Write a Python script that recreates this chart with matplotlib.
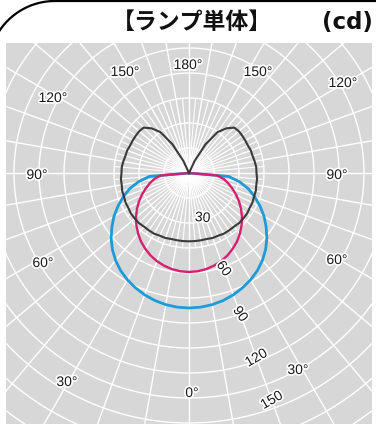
import numpy as np
import matplotlib
matplotlib.use("Agg")
import matplotlib.pyplot as plt
import matplotlib.patheffects as pe

# luminous intensity (cd), angle measured from straight down, symmetric left/right
angle_deg = [0, 5, 10, 15, 20, 25, 30, 35, 40, 45, 50, 55, 60, 65, 70, 75, 80, 85, 90]
blue_cd = [81, 80.8, 80.2, 79.2, 77.8, 76, 74, 71.5, 68.5, 65, 61, 56.5, 52, 47,
           42, 37, 31, 24, 0]
magenta_cd = [59.4, 59.2, 58.6, 57.6, 56.3, 54.6, 52.5, 50.2, 47.5, 44.6, 41.5, 38.2,
              34.8, 31.3, 27.8, 24.5, 21.3, 17, 0]

black_angle_deg = [0, 5, 10, 15, 20, 25, 30, 35, 40, 45, 50, 55, 60, 65, 70, 75, 80,
                   85, 90, 95, 100, 105, 110, 115, 120, 125, 130, 135, 140, 145,
                   150, 155, 160]
black_cd = [41, 41, 41, 41, 41.5, 41.5, 42, 42, 42, 42.5, 42.5, 42.5, 42, 42, 41.5,
            41.5, 41, 41, 40.5, 40.5, 40, 39.5, 39.5, 39, 39, 39, 39, 38.5, 35, 30,
            20, 8, 0]

ring_values = [30, 60, 90, 120, 150]
angle_labels = ["0°", "30°", "60°", "90°", "120°", "150°", "180°"]

W, H = 376, 428
fig = plt.figure(figsize=(W / 100, H / 100), dpi=100)

# page frame: rounded top-left corner plus top rule
frame = fig.add_axes([0, 0, 1, 1])
frame.set_xlim(0, W)
frame.set_ylim(H, 0)
frame.axis("off")
cx, cy, rr = 55, 67.7, 66.7
t = np.linspace(np.pi, 1.5 * np.pi, 100)
frame.plot(cx + rr * np.cos(t), cy + rr * np.sin(t), color="black", lw=1.6,
           solid_capstyle="butt")
frame.plot([cx, W], [1.2, 1.2], color="black", lw=1.6)
frame.text(192, 22, "【ランプ単体】", ha="center", va="center", fontsize=16.5,
           fontweight="bold", color="#111111",
           family=["Noto Sans CJK JP", "DejaVu Sans"])
frame.text(347, 22, "(cd)", ha="center", va="center", fontsize=16.5,
           fontweight="bold", color="#111111", family=["DejaVu Sans"])

# polar chart, 0.6 cd per pixel, centre of the distribution at px (189, 173)
x0, x1, y0, y1 = 6, 372, 43, 424
ax = fig.add_axes([x0 / W, 1 - y1 / H, (x1 - x0) / W, (y1 - y0) / H])
s = 0.6
ax.set_xlim((x0 - 189) * s, (x1 - 189) * s)
ax.set_ylim((173 - y1) * s, (173 - y0) * s)
ax.set_aspect("equal")
ax.set_facecolor("#d7d7d7")
for sp in ax.spines.values():
    sp.set_visible(False)
ax.set_xticks([])
ax.set_yticks([])

grid_kw = dict(color="white", lw=1.0, zorder=1)
phi = np.linspace(0, 2 * np.pi, 400)
for r in range(15, 200, 15):
    ax.plot(r * np.cos(phi), r * np.sin(phi), **grid_kw)
for a in range(0, 360, 10):
    th = np.radians(a)
    ax.plot([0, 200 * np.sin(th)], [0, -200 * np.cos(th)], **grid_kw)
for a in range(5, 360, 10):
    th = np.radians(a)
    ax.plot([0, 45 * np.sin(th)], [0, -45 * np.cos(th)], color="white", lw=0.8,
            zorder=1)


def polar_xy(deg, cd):
    deg = np.asarray(deg, float)
    cd = np.asarray(cd, float)
    th = np.radians(np.concatenate([-deg[::-1], deg[1:]]))
    r = np.concatenate([cd[::-1], cd[1:]])
    return r * np.sin(th), -r * np.cos(th)


bx, by = polar_xy(angle_deg, blue_cd)
ax.plot(bx, by, color="#1d9bd9", lw=2.0, zorder=3)
mx, my = polar_xy(angle_deg, magenta_cd)
ax.plot(mx, my, color="#d4206e", lw=1.7, zorder=4)
kx, ky = polar_xy(black_angle_deg, black_cd)
ax.plot(kx, ky, color="#3a3a3a", lw=1.5, zorder=5)

halo = [pe.withStroke(linewidth=2.5, foreground="white")]
txt_kw = dict(ha="center", va="center", fontsize=10, color="#1a1a1a", zorder=6,
              family=["Liberation Sans Narrow", "Liberation Sans", "DejaVu Sans"],
              path_effects=halo)

# angle labels: (label index, x px, y px)
angle_pos = [(6, 188, 65), (5, 125, 72), (5, 258, 72), (4, 53, 98), (4, 343, 83),
             (3, 37, 175), (3, 337, 175), (2, 43, 263), (2, 337, 260),
             (1, 67, 382), (1, 298, 370), (0, 192, 393)]
for i, px, py in angle_pos:
    ax.text((px - 189) * s, (173 - py) * s, angle_labels[i], **txt_kw)

# ring value labels along the lower right spoke
ring_pos = [(28, 17, -5), (61, 20, -55), (90, 20, -55), (118, 20, 30), (145, 20, 30)]
for val, (r, a, rot) in zip(ring_values, ring_pos):
    th = np.radians(a)
    ax.text(r * np.sin(th), -r * np.cos(th), str(val), rotation=rot,
            rotation_mode="anchor", **txt_kw)

fig.savefig("out.png", dpi=100)
